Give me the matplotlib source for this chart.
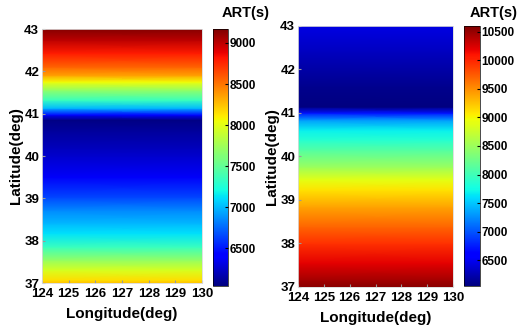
import matplotlib
matplotlib.use('Agg')
import numpy as np
import matplotlib.pyplot as plt

plt.rcParams.update({
    'font.family': ['Liberation Sans', 'DejaVu Sans'],
    'font.weight': 'bold',
})

LON = [124, 130]
LON_TICKS = [124, 125, 126, 127, 128, 129, 130]
LAT_TICKS = [37, 38, 39, 40, 41, 42, 43]

# left panel: ART (s) profile vs latitude (field is uniform in longitude)
LAT_L = [37.0, 37.07, 37.3, 37.54, 37.85, 38.17, 38.4, 38.72, 39.03, 39.5, 40.0,
         40.2, 40.6, 40.85, 40.97, 41.13, 41.32, 41.56, 41.75, 41.9, 42.1, 42.43, 42.74, 43.0]
ART_L = [8250, 8150, 7950, 7700, 7350, 7120, 7000, 6850, 6650, 6380, 6250,
         6200, 6120, 6060, 6450, 7000, 7350, 7700, 8050, 8350, 8550, 8800, 9000, 9150]
CB_L = (6040, 9170)
CB_TICKS_L = [6500, 7000, 7500, 8000, 8500, 9000]

# right panel
LAT_R = [37.0, 37.16, 37.55, 38.0, 38.38, 38.84, 39.23, 39.46, 39.76, 40.15, 40.38,
         40.6, 40.84, 41.0, 41.14, 41.6, 42.4, 43.0]
ART_R = [10550, 10450, 10200, 9950, 9700, 9400, 9100, 8900, 8500, 8100, 7850,
         7700, 7300, 6700, 6060, 6120, 6300, 6450]
CB_R = (6050, 10600)
CB_TICKS_R = [6500, 7000, 7500, 8000, 8500, 9000, 9500, 10000, 10500]

fig = plt.figure(figsize=(5.2, 3.26), dpi=100)
W, H = 520.0, 326.0


def box(x0, x1, ytop, ybot):
    return [x0 / W, 1 - ybot / H, (x1 - x0) / W, (ybot - ytop) / H]


def panel(ax_box, cb_box, lats, art, lims, cticks, lbl_x, lbl_y):
    ax = fig.add_axes(ax_box)
    z = np.column_stack([art, art])
    mesh = ax.pcolormesh(LON, lats, z, cmap='jet', vmin=lims[0], vmax=lims[1],
                         shading='gouraud', rasterized=True)
    ax.set_xlim(124, 130)
    ax.set_ylim(37, 43)
    ax.set_xticks(LON_TICKS)
    ax.set_yticks(LAT_TICKS)
    ax.tick_params(labelsize=9.5, length=2, direction='in', pad=2, color='0.6')
    ax.tick_params(axis='x', pad=3.5)
    for s in ax.spines.values():
        s.set_color('0.85')
        s.set_linewidth(0.6)
    ax.set_xlabel('Longitude(deg)', fontsize=11, fontweight='bold', labelpad=5)
    ax.set_ylabel('Latitude(deg)', fontsize=11, fontweight='bold', labelpad=1)
    cax = fig.add_axes(cb_box)
    cb = fig.colorbar(mesh, cax=cax, ticks=cticks)
    cb.ax.tick_params(labelsize=8.5, length=2.5, direction='in', pad=1)
    cb.outline.set_linewidth(0.5)
    fig.text(lbl_x, lbl_y, 'ART(s)', fontsize=10.5, fontweight='bold', ha='center', va='center')
    return ax


panel(box(42, 202, 29, 283), box(213, 228, 29, 286), LAT_L, ART_L, CB_L, CB_TICKS_L,
      246 / W, 1 - 13 / H)
panel(box(298, 453, 26, 287), box(464, 480, 26, 286), LAT_R, ART_R, CB_R, CB_TICKS_R,
      494 / W, 1 - 13 / H)

fig.savefig('out.png', dpi=100)
